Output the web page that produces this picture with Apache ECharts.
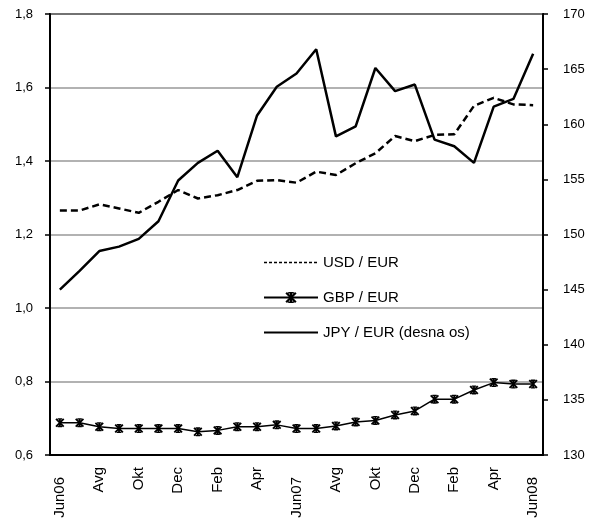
<!DOCTYPE html>
<html>
<head>
<meta charset="utf-8">
<script src="https://cdn.jsdelivr.net/npm/echarts@6/dist/echarts.min.js"></script>
<style>
  html, body { margin: 0; padding: 0; background: #fff; }
  #chart { width: 598px; height: 524px; }
</style>
</head>
<body>
<div id="chart"></div>
<script>
// mjeseci Jun06 - Jun08
var months = ['Jun06', 'Jul', 'Avg', 'Sep', 'Okt', 'Nov', 'Dec', 'Jan', 'Feb', 'Mar', 'Apr', 'Maj',
              'Jun07', 'Jul', 'Avg', 'Sep', 'Okt', 'Nov', 'Dec', 'Jan', 'Feb', 'Mar', 'Apr', 'Maj', 'Jun08'];

var usd = [1.265, 1.265, 1.282, 1.271, 1.259, 1.289, 1.321, 1.298, 1.307, 1.321, 1.346, 1.348,
           1.341, 1.371, 1.362, 1.394, 1.421, 1.468, 1.454, 1.471, 1.473, 1.550, 1.572, 1.554, 1.552];

var gbp = [0.688, 0.688, 0.677, 0.672, 0.672, 0.672, 0.672, 0.663, 0.667, 0.677, 0.677, 0.682,
           0.672, 0.672, 0.679, 0.690, 0.694, 0.709, 0.720, 0.752, 0.752, 0.777, 0.797, 0.793, 0.793];

var jpy = [145.0, 146.7, 148.5, 148.9, 149.6, 151.2, 154.9, 156.5, 157.6, 155.2, 160.8, 163.4,
           164.6, 166.8, 158.9, 159.8, 165.1, 163.0, 163.6, 158.6, 158.0, 156.5, 161.6, 162.3, 166.4];

var seriesNames = ['USD / EUR', 'GBP / EUR', 'JPY / EUR (desna os)'];

// zvjezdica kao u Excelu
var starSymbol = 'path://M4 0 H6 V10 H4 Z M0 1.4 L1.4 0 L10 8.6 L8.6 10 Z M8.6 0 L10 1.4 L1.4 10 L0 8.6 Z M2.5 0 H7.5 V1.5 H2.5 Z M2.5 8.5 H7.5 V10 H2.5 Z';

var chart = echarts.init(document.getElementById('chart'));

var font = 'Liberation Sans, Arial, sans-serif';

chart.setOption({
    animation: false,
    textStyle: { fontFamily: font },
    grid: {
        left: 50, right: 55, top: 14, bottom: 69,
        show: true, borderColor: '#000', borderWidth: 2
    },
    legend: {
        orient: 'vertical',
        left: 258, top: 250,
        itemWidth: 54, itemHeight: 14, itemGap: 20,
        textStyle: { fontSize: 15, color: '#000', fontFamily: font },
        data: [
            { name: seriesNames[0], itemStyle: { opacity: 0 }, lineStyle: { width: 1.5, type: [3, 2] } },
            { name: seriesNames[1], lineStyle: { width: 2 } },
            { name: seriesNames[2], itemStyle: { opacity: 0 }, lineStyle: { width: 2 } }
        ]
    },
    xAxis: {
        type: 'category',
        data: months,
        boundaryGap: true,
        axisLine: { lineStyle: { color: '#000', width: 2 } },
        axisTick: { interval: 0, length: 5, lineStyle: { color: '#000', width: 2 } },
        axisLabel: {
            interval: 1, rotate: 90, margin: 12, fontSize: 15, color: '#000', fontFamily: font,
            formatter: function (v) {
                return v.indexOf('Jun') === 0 ? '{j|' + v + '}' : v;
            },
            rich: {
                j: { fontSize: 15, color: '#000', fontFamily: font, padding: [0, 10, 0, 0] }
            }
        },
        splitLine: { show: false }
    },
    yAxis: [{
        type: 'value',
        min: 0.6, max: 1.8, interval: 0.2,
        axisLine: { show: true, lineStyle: { color: '#000', width: 2 } },
        axisTick: { show: true, length: 5, lineStyle: { color: '#000', width: 1.5 } },
        axisLabel: {
            margin: 17, fontSize: 13, color: '#000', fontFamily: font,
            formatter: function (v) { return v.toFixed(1).replace('.', ','); }
        },
        splitLine: { show: true, lineStyle: { color: '#999', width: 1.5 } }
    }, {
        type: 'value',
        min: 130, max: 170, interval: 5,
        position: 'right',
        axisLine: { show: true, lineStyle: { color: '#000', width: 2 } },
        axisTick: { show: true, length: 5, lineStyle: { color: '#000', width: 1.5 } },
        axisLabel: { margin: 20, fontSize: 13, color: '#000', fontFamily: font },
        splitLine: { show: false }
    }],
    series: [{
        name: seriesNames[0],
        type: 'line',
        data: usd,
        yAxisIndex: 0,
        symbol: 'none',
        color: '#000',
        lineStyle: { color: '#000', width: 2.5, type: [7, 4] }
    }, {
        name: seriesNames[1],
        type: 'line',
        data: gbp,
        yAxisIndex: 0,
        symbol: starSymbol,
        symbolSize: 9,
        showAllSymbol: true,
        color: '#000',
        itemStyle: { color: '#000' },
        lineStyle: { color: '#000', width: 1.5 }
    }, {
        name: seriesNames[2],
        type: 'line',
        data: jpy,
        yAxisIndex: 1,
        symbol: 'none',
        color: '#000',
        lineStyle: { color: '#000', width: 2.5 }
    }]
});
</script>
</body>
</html>
